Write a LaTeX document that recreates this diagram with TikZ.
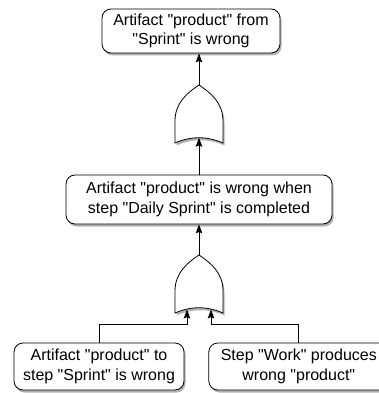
\documentclass[tikz,border=0pt]{standalone}
\usepackage{fontspec}
\setmainfont{Liberation Sans}[Ligatures=TeXOff]
\usetikzlibrary{arrows.meta}
\usetikzlibrary{positioning}
\usetikzlibrary{shadows}

\tikzset{
  event/.style={draw, fill=white, rounded corners=9pt, align=center, inner sep=2pt,
    font=\fontsize{16pt}{19.5pt}\selectfont,
    drop shadow={shadow xshift=1.5pt, shadow yshift=-2.5pt, fill=black, opacity=0.3}},
  orgate/.pic={
    \draw[-, fill=white, drop shadow={shadow xshift=1.5pt, shadow yshift=-2.5pt, fill=black, opacity=0.3}]
      (-24,0) -- (-24,22) .. controls (-24,40) and (-12,50) .. (0,58)
      .. controls (12,50) and (24,40) .. (24,22) -- (24,0)
      .. controls (8,7) and (-8,7) .. (-24,0) -- cycle;
    \coordinate (-out) at (0,58);
    \coordinate (-in) at (0,5.2);
    \coordinate (-in1) at (-12,3.5);
    \coordinate (-in2) at (12,3.5);
  }
}

\begin{document}
\begin{tikzpicture}[x=1pt,y=1pt,->,>={Stealth[length=9pt,width=6.5pt,inset=1.5pt]},line width=0.8pt]
        \useasboundingbox (0,0) rectangle (379,-393);

        \node[event, minimum width=178pt, minimum height=44pt] (top) at (191,-31)
          {Artifact "product" from\\"Sprint" is wrong};
        \node[event, minimum width=266pt, minimum height=49pt] (mid) at (199,-199.5)
          {Artifact "product" is wrong when\\step "Daily Sprint" is completed};
        \node[event, minimum width=170pt, minimum height=47pt] (left) at (99,-366.5)
          {Artifact "product" to\\step "Sprint" is wrong};
        \node[event, minimum width=180pt, minimum height=47pt] (right) [right=24pt of left]
          {Step "Work" produces\\wrong "product"};

        \pic (g1) at (199,-143) {orgate};
        \pic (g2) at (199,-313) {orgate};

        \draw (g1-out) -- (g1-out |- top.south);
        \draw (mid.north) -- (g1-in);
        \draw (g2-out) -- (mid.south);
        \draw (left.north) |- ([yshift=-15pt]g2-in1) -- (g2-in1);
        \draw (right.north) |- ([yshift=-15pt]g2-in2) -- (g2-in2);
\end{tikzpicture}
\end{document}
